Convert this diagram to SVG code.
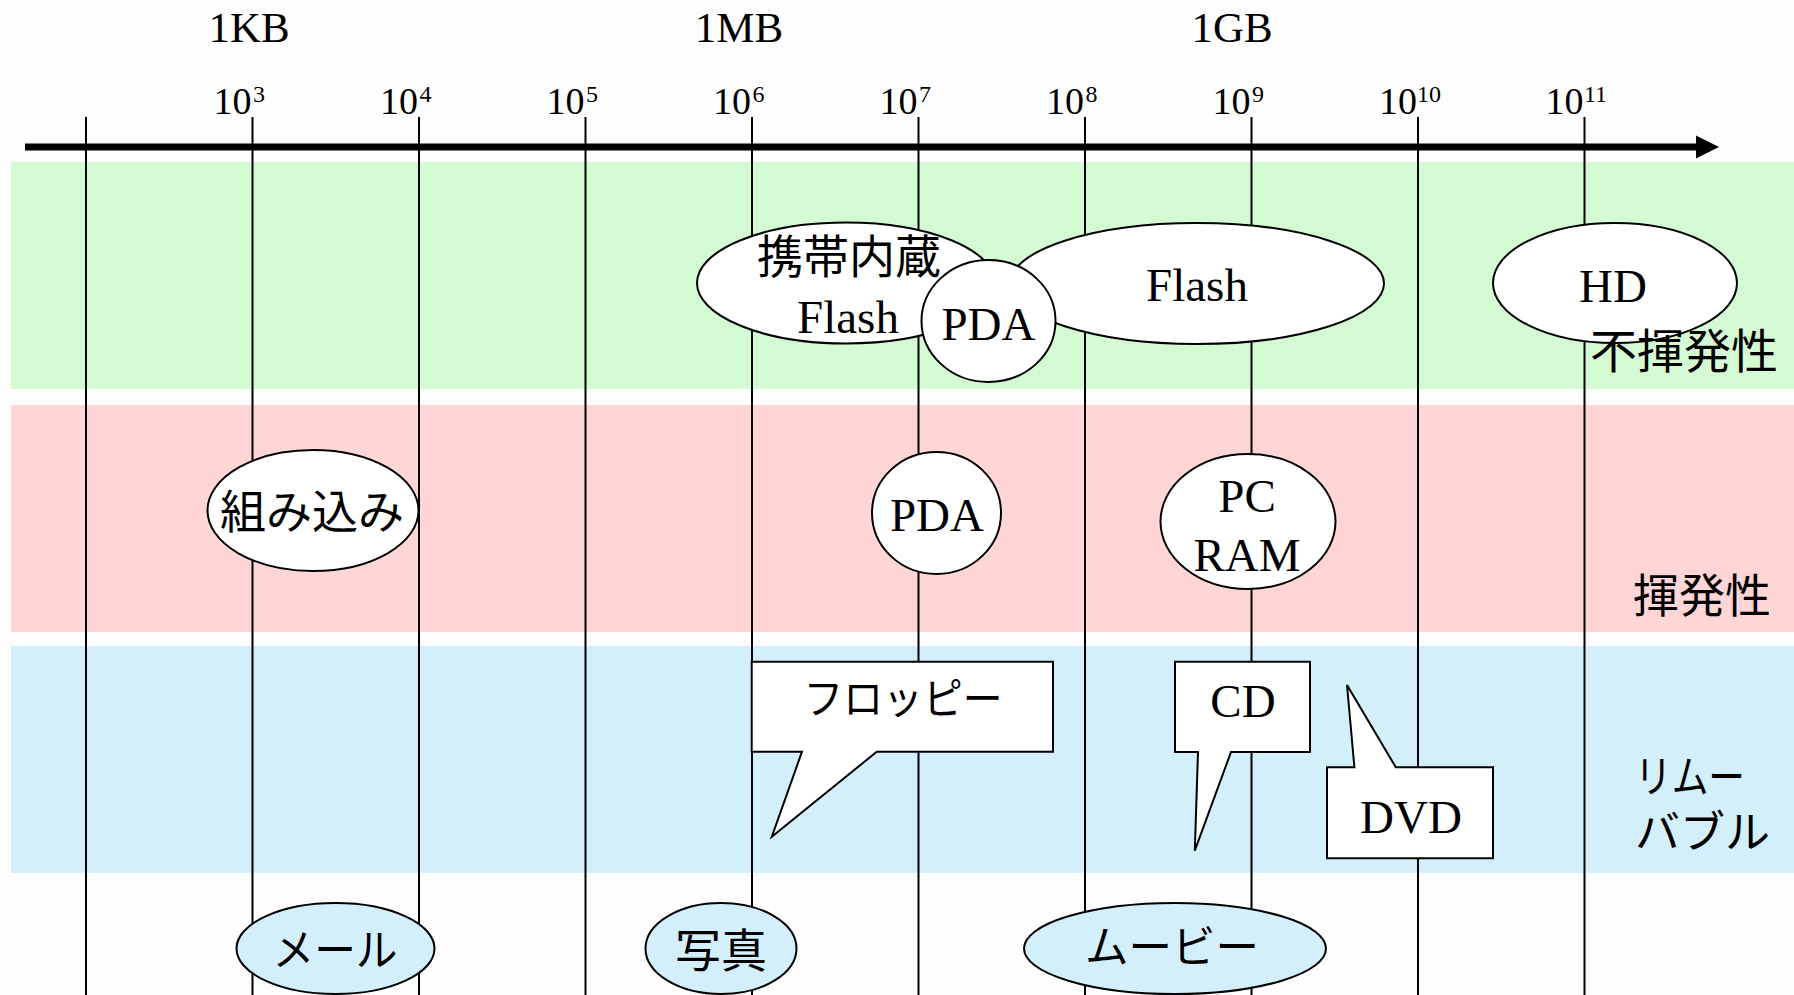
<svg xmlns="http://www.w3.org/2000/svg" width="1794" height="995" viewBox="0 0 1794 995">
<style>
.lat{font-family:"Liberation Serif","DejaVu Serif",serif;fill:#000}
.jp{font-family:"Liberation Serif","Noto Sans CJK JP",sans-serif;fill:#000}
.grid{stroke:#000;stroke-width:2;fill:none}
.node{fill:#fff;stroke:#000;stroke-width:2}
.bnode{fill:#D4EFFC;stroke:#000;stroke-width:2}
.lbl{font-size:47px;text-anchor:middle}
.sup{font-size:24px}
</style>
<rect x="0" y="0" width="1794" height="995" fill="#fdfdfd"/>
<g id="bands">
<rect x="11" y="162" width="1783" height="227" fill="#D4FAD4"/>
<rect x="11" y="405" width="1783" height="227" fill="#FFD5D5"/>
<rect x="11" y="646" width="1783" height="227" fill="#D4EFFC"/>
</g>
<g id="connectors">
<g class="grid">
<line x1="86" y1="117" x2="86" y2="995"/>
<line x1="252.5" y1="117" x2="252.5" y2="995"/>
<line x1="419" y1="117" x2="419" y2="995"/>
<line x1="585.5" y1="117" x2="585.5" y2="995"/>
<line x1="752" y1="117" x2="752" y2="995"/>
<line x1="918.5" y1="117" x2="918.5" y2="995"/>
<line x1="1085" y1="117" x2="1085" y2="995"/>
<line x1="1251.5" y1="117" x2="1251.5" y2="995"/>
<line x1="1418" y1="117" x2="1418" y2="995"/>
<line x1="1584.5" y1="117" x2="1584.5" y2="995"/>
</g>
<g id="axis">
<line x1="25" y1="147" x2="1698" y2="147" stroke="#000" stroke-width="7"/>
<polygon points="1696,135.5 1719,147 1696,158.5" fill="#000"/>
</g>
</g>
<g id="scale-labels" class="lat">
<text x="249" y="42" font-size="43" text-anchor="middle">1KB</text>
<text x="739" y="42" font-size="43" text-anchor="middle">1MB</text>
<text x="1232" y="42" font-size="43" text-anchor="middle">1GB</text>
<g font-size="38">
<text x="251.5" y="114" text-anchor="end">10</text><text class="sup" x="253" y="102">3</text>
<text x="418" y="114" text-anchor="end">10</text><text class="sup" x="419.5" y="102">4</text>
<text x="584.5" y="114" text-anchor="end">10</text><text class="sup" x="586" y="102">5</text>
<text x="751" y="114" text-anchor="end">10</text><text class="sup" x="752.5" y="102">6</text>
<text x="917.5" y="114" text-anchor="end">10</text><text class="sup" x="919" y="102">7</text>
<text x="1084" y="114" text-anchor="end">10</text><text class="sup" x="1085.5" y="102">8</text>
<text x="1250.5" y="114" text-anchor="end">10</text><text class="sup" x="1252" y="102">9</text>
<text x="1417" y="114" text-anchor="end">10</text><text class="sup" x="1417" y="102">10</text>
<text x="1583.5" y="114" text-anchor="end">10</text><text class="sup" x="1584" y="102">11</text>
</g>
</g>
<g id="node-keitai-flash">
<ellipse class="node" cx="846" cy="283" rx="149" ry="60.5"/>
<text class="jp" x="849" y="273" font-size="46" text-anchor="middle">携帯内蔵</text>
<text class="lat lbl" x="848" y="333">Flash</text>
</g>
<g id="node-flash">
<ellipse class="node" cx="1197" cy="283.5" rx="187" ry="60.5"/>
<text class="lat lbl" x="1197" y="301">Flash</text>
</g>
<g id="node-pda-nv">
<ellipse class="node" cx="988.5" cy="321" rx="67" ry="61"/>
<text class="lat lbl" x="988.5" y="340">PDA</text>
</g>
<g id="node-hd">
<ellipse class="node" cx="1615" cy="283" rx="122" ry="60"/>
<text class="lat lbl" x="1613" y="302">HD</text>
</g>
<g id="node-kumikomi">
<ellipse class="node" cx="313" cy="510.5" rx="105.5" ry="60.5"/>
<text class="jp" x="312" y="528" font-size="46" text-anchor="middle">組み込み</text>
</g>
<g id="node-pda-v">
<ellipse class="node" cx="936.5" cy="513" rx="64.5" ry="61"/>
<text class="lat lbl" x="937" y="531">PDA</text>
</g>
<g id="node-pcram">
<ellipse class="node" cx="1248" cy="521.5" rx="87.5" ry="67.5"/>
<text class="lat lbl" x="1247" y="512">PC</text>
<text class="lat lbl" x="1247" y="571">RAM</text>
</g>
<g id="node-floppy">
<path class="node" d="M751.7,661.7 H1053 V751.7 H876.8 L771.8,836.7 L802,751.7 H751.7 Z"/>
<text class="jp" x="903" y="714" font-size="42" text-anchor="middle" textLength="199" lengthAdjust="spacingAndGlyphs">フロッピー</text>
</g>
<g id="node-cd">
<path class="node" d="M1175,661.7 H1310 V752 H1231 L1194.8,850.7 L1198,752 H1175 Z"/>
<text class="lat lbl" x="1243" y="717">CD</text>
</g>
<g id="node-dvd">
<path class="node" d="M1327,767.3 H1354.4 L1347,685 L1395.8,767.3 H1493 V858.3 H1327 Z"/>
<text class="lat lbl" x="1411" y="833" font-size="45">DVD</text>
</g>
<g id="node-mail">
<ellipse class="bnode" cx="335.5" cy="948.5" rx="99" ry="45.5"/>
<text class="jp" x="335" y="966" font-size="44" text-anchor="middle" textLength="125" lengthAdjust="spacingAndGlyphs">メール</text>
</g>
<g id="node-photo">
<ellipse class="bnode" cx="721" cy="948.5" rx="75.5" ry="45.5"/>
<text class="jp" x="721" y="967" font-size="46" text-anchor="middle">写真</text>
</g>
<g id="node-movie">
<ellipse class="bnode" cx="1175" cy="948.5" rx="151" ry="45.5"/>
<text class="jp" x="1172" y="963" font-size="44" text-anchor="middle" textLength="174" lengthAdjust="spacingAndGlyphs">ムービー</text>
</g>
<g id="band-labels" class="jp">
<text x="1590" y="368" font-size="47">不揮発性</text>
<text x="1633" y="612" font-size="46">揮発性</text>
<text x="1635" y="793" font-size="44" textLength="110" lengthAdjust="spacingAndGlyphs">リムー</text>
<text x="1635" y="848" font-size="44" textLength="135" lengthAdjust="spacingAndGlyphs">バブル</text>
</g>
</svg>
